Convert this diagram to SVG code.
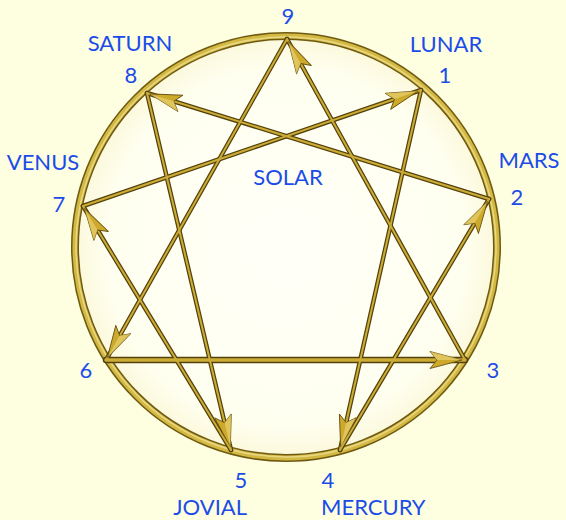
<svg xmlns="http://www.w3.org/2000/svg" width="566" height="520" viewBox="0 0 566 520">
<defs>
<radialGradient id="inner" cx="0.5" cy="0.5" r="0.5">
<stop offset="0" stop-color="#FFFFF8"/>
<stop offset="0.85" stop-color="#FFFFF0"/>
<stop offset="1" stop-color="#FBF8DA"/>
</radialGradient>
<marker id="arr" markerUnits="userSpaceOnUse" markerWidth="40" markerHeight="24" viewBox="-36 -12 40 24" refX="3" refY="0" orient="auto" overflow="visible">
<path d="M0,0 L-32,-8.5 L-25,0 L-32,8.5 Z" fill="#CDAA2C" stroke="#6B5410" stroke-width="0.9" stroke-linejoin="round"/>
<path d="M0,0 L-32,-8.5 L-25,0 Z" fill="#E8D070" opacity="0.7"/>
</marker>
<style>
.lbl{font-family:Lato,"Open Sans","Liberation Sans",sans-serif;font-size:22px;fill:#1C4CE8;}
.under{fill:none;stroke:#54420C;stroke-width:4.5;stroke-linecap:round;}
.over{fill:none;stroke:#CBAC36;stroke-width:2;stroke-linecap:round;}
.thick{stroke-width:6.5;}
.thickhi{stroke-width:3.5;}
</style>
</defs>
<rect x="0" y="0" width="566" height="520" fill="#FEFEE1"/>
<g id="ring">
<circle cx="286" cy="247" r="211" fill="url(#inner)"/>
<circle cx="286" cy="247" r="211" fill="none" stroke="#6E5A12" stroke-width="8"/>
<circle cx="286" cy="247" r="211" fill="none" stroke="#D3B842" stroke-width="5"/>
<circle cx="286" cy="247" r="210" fill="none" stroke="#F2E6A0" stroke-width="1.5" opacity="0.7"/>
</g>
<g id="connectors">
<g class="shadow">
<path class="under" d="M287,39 L106,360"/>
<path class="under thick" d="M106,360 L465,360"/>
<path class="under" d="M465,360 L287,39"/>
<path class="under" d="M421,90 L340,450"/>
<path class="under" d="M340,450 L489,199"/>
<path class="under" d="M489,199 L147,93"/>
<path class="under" d="M147,93 L231,450"/>
<path class="under" d="M231,450 L83,206"/>
<path class="under" d="M83,206 L421,90"/>
</g>
<g class="top">
<path id="e9-6" class="over" d="M287,39 L106,360" marker-end="url(#arr)"/>
<path id="e6-3" class="over thickhi" d="M106,360 L465,360" marker-end="url(#arr)"/>
<path id="e3-9" class="over" d="M465,360 L287,39" marker-end="url(#arr)"/>
<path id="e1-4" class="over" d="M421,90 L340,450" marker-end="url(#arr)"/>
<path id="e4-2" class="over" d="M340,450 L489,199" marker-end="url(#arr)"/>
<path id="e2-8" class="over" d="M489,199 L147,93" marker-end="url(#arr)"/>
<path id="e8-5" class="over" d="M147,93 L231,450" marker-end="url(#arr)"/>
<path id="e5-7" class="over" d="M231,450 L83,206" marker-end="url(#arr)"/>
<path id="e7-1" class="over" d="M83,206 L421,90" marker-end="url(#arr)"/>
</g>
</g>
<g id="node-9"><text class="lbl" x="288" y="24" text-anchor="middle">9</text></g>
<g id="node-1"><text class="lbl" x="446" y="52" text-anchor="middle">LUNAR</text><text class="lbl" x="445" y="83" text-anchor="middle">1</text></g>
<g id="node-2"><text class="lbl" x="529" y="168" text-anchor="middle">MARS</text><text class="lbl" x="517" y="205" text-anchor="middle">2</text></g>
<g id="node-3"><text class="lbl" x="493" y="378" text-anchor="middle">3</text></g>
<g id="node-4"><text class="lbl" x="328" y="488" text-anchor="middle">4</text><text class="lbl" x="321" y="515">MERCURY</text></g>
<g id="node-5"><text class="lbl" x="241" y="488" text-anchor="middle">5</text><text class="lbl" x="247" y="515" text-anchor="end">JOVIAL</text></g>
<g id="node-6"><text class="lbl" x="86" y="378" text-anchor="middle">6</text></g>
<g id="node-7"><text class="lbl" x="43" y="170" text-anchor="middle">VENUS</text><text class="lbl" x="59" y="212" text-anchor="middle">7</text></g>
<g id="node-8"><text class="lbl" x="130" y="51" text-anchor="middle">SATURN</text><text class="lbl" x="131" y="83" text-anchor="middle">8</text></g>
<g id="center"><text class="lbl" x="288" y="185" text-anchor="middle">SOLAR</text></g>
</svg>
